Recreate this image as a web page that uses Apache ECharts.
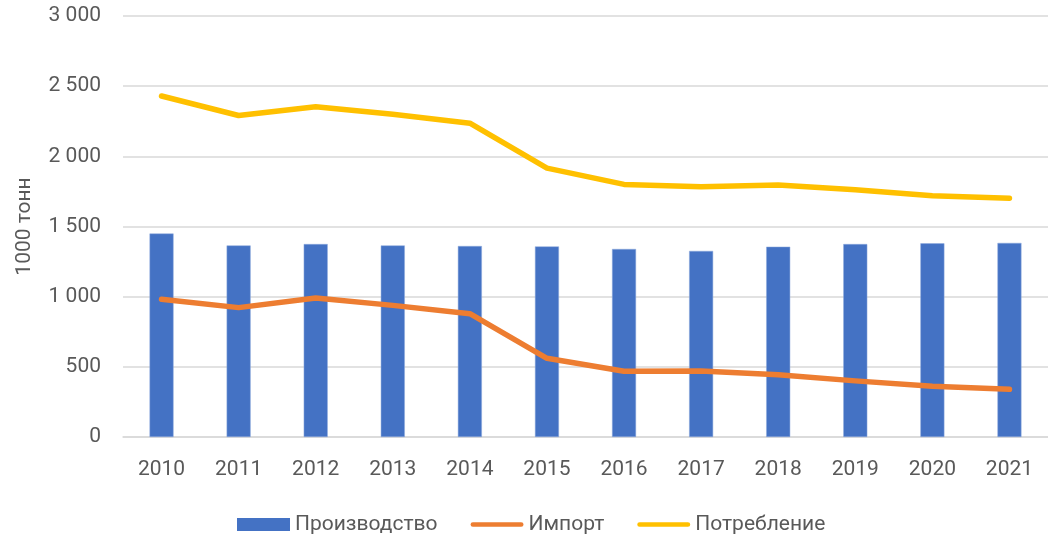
<!DOCTYPE html>
<html>
<head>
<meta charset="utf-8">
<script src="https://cdn.jsdelivr.net/npm/echarts@6/dist/echarts.min.js"></script>
<style>
  html, body { margin: 0; padding: 0; background: #fff; }
  #chart { width: 1048px; height: 537px; }
</style>
</head>
<body>
<div id="chart"></div>
<script>
  // data
  var years = ['2010', '2011', '2012', '2013', '2014', '2015', '2016', '2017', '2018', '2019', '2020', '2021']
  var production = [1450, 1365, 1375, 1365, 1361, 1358, 1340, 1326, 1356, 1375, 1380, 1383]
  var imports = [981, 922, 991, 938, 879, 561, 468, 471, 443, 400, 362, 340]
  var consumption = [2430, 2291, 2354, 2300, 2236, 1916, 1800, 1783, 1795, 1762, 1719, 1702]

  var textColor = '#595959'
  var font = 'Roboto'
  // flat bar used as legend icon for the two lines
  var lineIcon = 'path://M2.5,0 L53.5,0 A2.5,2.5 0 0 1 53.5,5 L2.5,5 A2.5,2.5 0 0 1 2.5,0 Z'

  var chart = echarts.init(document.getElementById('chart'))
  chart.setOption({
    animation: false,
    grid: {
      left: 123,
      right: 0,
      top: 16,
      bottom: 100
    },
    legend: {
      data: [
        { name: 'Производство', icon: 'rect', itemStyle: { borderWidth: 0 } },
        { name: 'Импорт', icon: lineIcon },
        { name: 'Потребление', icon: lineIcon }
      ],
      top: 509,
      left: 232,
      itemWidth: 53,
      itemHeight: 13,
      itemGap: 33,
      textStyle: {
        color: textColor,
        fontFamily: font,
        fontSize: 21
      }
    },
    xAxis: {
      type: 'category',
      data: years,
      axisLine: {
        lineStyle: { color: '#d9d9d9', width: 1.5 }
      },
      axisTick: { show: false },
      axisLabel: {
        margin: 22,
        color: textColor,
        fontFamily: font,
        fontSize: 21
      }
    },
    yAxis: {
      type: 'value',
      min: 0,
      max: 3000,
      interval: 500,
      name: '1000 тонн',
      nameLocation: 'middle',
      nameGap: 88,
      nameRotate: 90,
      nameTextStyle: {
        color: textColor,
        fontFamily: font,
        fontSize: 21
      },
      axisLine: { show: false },
      axisTick: { show: false },
      splitLine: {
        lineStyle: { color: '#d9d9d9', width: 1.5 }
      },
      axisLabel: {
        margin: 22,
        color: textColor,
        fontFamily: font,
        fontSize: 21,
        formatter: function (value) {
          return String(value).replace(/\B(?=(\d{3})+(?!\d))/g, ' ')
        }
      }
    },
    series: [
      {
        name: 'Производство',
        type: 'bar',
        data: production,
        barWidth: 24,
        itemStyle: {
          color: '#4472c4',
          borderColor: '#8faadc',
          borderWidth: 0.5
        }
      },
      {
        name: 'Импорт',
        type: 'line',
        data: imports,
        symbol: 'none',
        lineStyle: { color: '#ed7d31', width: 5.5, cap: 'round', join: 'round' },
        itemStyle: { color: '#ed7d31' }
      },
      {
        name: 'Потребление',
        type: 'line',
        data: consumption,
        symbol: 'none',
        lineStyle: { color: '#ffc000', width: 5.5, cap: 'round', join: 'round' },
        itemStyle: { color: '#ffc000' }
      }
    ]
  })
</script>
</body>
</html>
